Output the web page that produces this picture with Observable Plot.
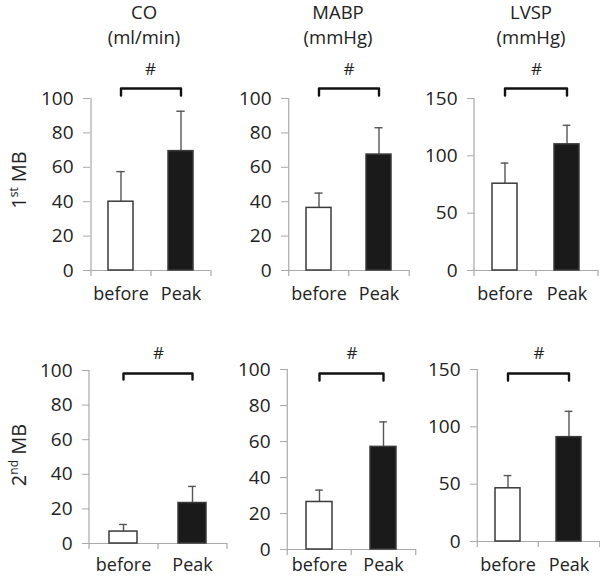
<!DOCTYPE html>
<html><head><meta charset="utf-8">
<script src="https://cdn.jsdelivr.net/npm/d3@7"></script>
<script src="https://cdn.jsdelivr.net/npm/@observablehq/plot@0.6"></script>
<style>
body{margin:0;background:#fff;}
#root{position:relative;width:600px;height:578px;font-family:"Open Sans",sans-serif;color:#222;overflow:hidden}
.panel{position:absolute}
.title{position:absolute;transform:translate(-50%,-50%);font-size:18.5px;line-height:1;white-space:nowrap;text-align:center}
.rowlab{position:absolute;transform:translate(-50%,-50%) rotate(-90deg);font-size:20px;white-space:nowrap;line-height:1}
.rowlab sup{font-size:12px;vertical-align:8px}
</style></head><body><div id="root"></div>
<script>
// ---- data ----
const conditions = ["before", "Peak"];
const measures = ["CO", "MABP", "LVSP"];
const units = ["(ml/min)", "(mmHg)", "(mmHg)"];
const rowOrdinals = ["st", "nd"];
const rowNumbers = ["1", "2"];
const yTicks = [[0, 20, 40, 60, 80, 100], [0, 20, 40, 60, 80, 100], [0, 50, 100, 150]];
const yMaxes = [100, 100, 150];
const mb1Before = [40.0, 36.4, 75.7];
const mb1BeforeErr = [17.5, 8.6, 18.0];
const mb1Peak = [69.4, 67.4, 110.0];
const mb1PeakErr = [23.2, 15.6, 16.6];
const mb2Before = [6.9, 26.4, 46.4];
const mb2BeforeErr = [4.1, 6.6, 11.1];
const mb2Peak = [23.4, 57.0, 91.0];
const mb2PeakErr = [9.6, 13.9, 22.5];
const significance = ["#", "#", "#", "#", "#", "#"];

// ---- layout (pixels) ----
const layout = [
  {x0: 90, x1: 210, top: 98, bottom: 270, lab: 298, bracket: 88, arm: 95, hash: 69},
  {x0: 288, x1: 409, top: 98, bottom: 270, lab: 298, bracket: 88, arm: 95, hash: 69},
  {x0: 474, x1: 598, top: 98, bottom: 270, lab: 298, bracket: 88, arm: 95, hash: 69},
  {x0: 89, x1: 227, top: 370, bottom: 543, lab: 569, bracket: 373, arm: 379, hash: 353},
  {x0: 287, x1: 416, top: 369, bottom: 549, lab: 569, bracket: 373, arm: 380, hash: 353},
  {x0: 477, x1: 600, top: 369, bottom: 541, lab: 569, bracket: 373, arm: 380, hash: 353}
];
const titleX = [144, 338, 531];
const rowLabelY = [180, 455];

const root = document.getElementById("root");
const axisColor = "#a9a9a9";
const ink = "#222";

const means = [[mb1Before, mb1Peak], [mb2Before, mb2Peak]];
const errs = [[mb1BeforeErr, mb1PeakErr], [mb2BeforeErr, mb2PeakErr]];
const fills = ["#ffffff", "#1a1a1a"];

for (let r = 0; r < 2; r++) {
  for (let i = 0; i < 3; i++) {
    const L = layout[r * 3 + i];
    const yMax = yMaxes[i];
    const ml = 60, mr = 2, mb = 40;
    const mt = L.top - L.hash + 14;
    const W = L.x1 - L.x0;
    const width = ml + W + mr;
    const height = mt + (L.bottom - L.top) + mb;
    const ppu = (L.bottom - L.top) / yMax;
    const toVal = (px) => (L.bottom - px) / ppu;
    const step = W / 2;
    const rows = conditions.map((c, k) => ({cond: c, mean: means[r][k][i], err: errs[r][k][i], fill: fills[k]}));
    const bw = step * 0.41;
    const bTop = toVal(L.bracket), bArm = toVal(L.arm);
    const bracket = [
      {cond: conditions[0], v: bArm}, {cond: conditions[0], v: bTop},
      {cond: conditions[1], v: bTop}, {cond: conditions[1], v: bArm}
    ];
    const chart = Plot.plot({
      width, height,
      marginLeft: ml, marginRight: mr, marginTop: mt, marginBottom: mb,
      style: {fontFamily: "Open Sans, sans-serif", fontSize: "18px", color: ink, background: "transparent", overflow: "visible"},
      x: {domain: conditions, paddingInner: 0.59, paddingOuter: 0.295},
      y: {domain: [0, yMax]},
      marks: [
        Plot.ruleY([0], {stroke: axisColor, strokeWidth: 1.2}),
        Plot.ruleX([conditions[0]], {dx: -step / 2, y1: 0, y2: yMax, stroke: axisColor, strokeWidth: 1.2}),
        Plot.ruleX(conditions, {dx: -step / 2, y1: 0, y2: 0, insetBottom: -6, stroke: axisColor, strokeWidth: 1.2}),
        Plot.ruleX([conditions[1]], {dx: step / 2, y1: 0, y2: 0, insetBottom: -6, stroke: axisColor, strokeWidth: 1.2}),
        Plot.axisY({ticks: yTicks[i], tickSize: 7, tickPadding: 10, stroke: axisColor, fill: ink, fontSize: 19, label: null}),
        Plot.axisX({tickSize: 0, tickPadding: L.lab - L.bottom - 11, fill: ink, fontSize: 18, label: null}),
        Plot.ruleX(rows, {x: "cond", y1: "mean", y2: (d) => d.mean + d.err, stroke: "#555", strokeWidth: 1.4}),
        Plot.tickY(rows, {x: "cond", y: (d) => d.mean + d.err, stroke: "#555", strokeWidth: 1.4, insetLeft: bw / 2 - 4, insetRight: bw / 2 - 4}),
        Plot.barY(rows, {x: "cond", y: "mean", fill: "fill", stroke: "#3a3a3a", strokeWidth: 1.5}),
        Plot.line(bracket, {x: "cond", y: "v", stroke: "#111", strokeWidth: 2.4}),
        Plot.text([significance[r * 3 + i]], {y: toVal(L.hash), text: (d) => d, fill: ink, fontSize: 17})
      ]
    });
    chart.classList.add("panel");
    chart.style.left = (L.x0 - ml) + "px";
    chart.style.top = (L.top - mt) + "px";
    root.appendChild(chart);
  }
}

measures.forEach((m, i) => {
  const t1 = document.createElement("div");
  t1.className = "title"; t1.textContent = m;
  t1.style.left = titleX[i] + "px"; t1.style.top = "12px";
  root.appendChild(t1);
  const t2 = document.createElement("div");
  t2.className = "title"; t2.textContent = units[i];
  t2.style.left = titleX[i] + "px"; t2.style.top = "37px";
  root.appendChild(t2);
});

rowNumbers.forEach((n, r) => {
  const d = document.createElement("div");
  d.className = "rowlab";
  d.innerHTML = n + "<sup>" + rowOrdinals[r] + "</sup> MB";
  d.style.left = "18px"; d.style.top = rowLabelY[r] + "px";
  root.appendChild(d);
});
</script>
</body></html>
